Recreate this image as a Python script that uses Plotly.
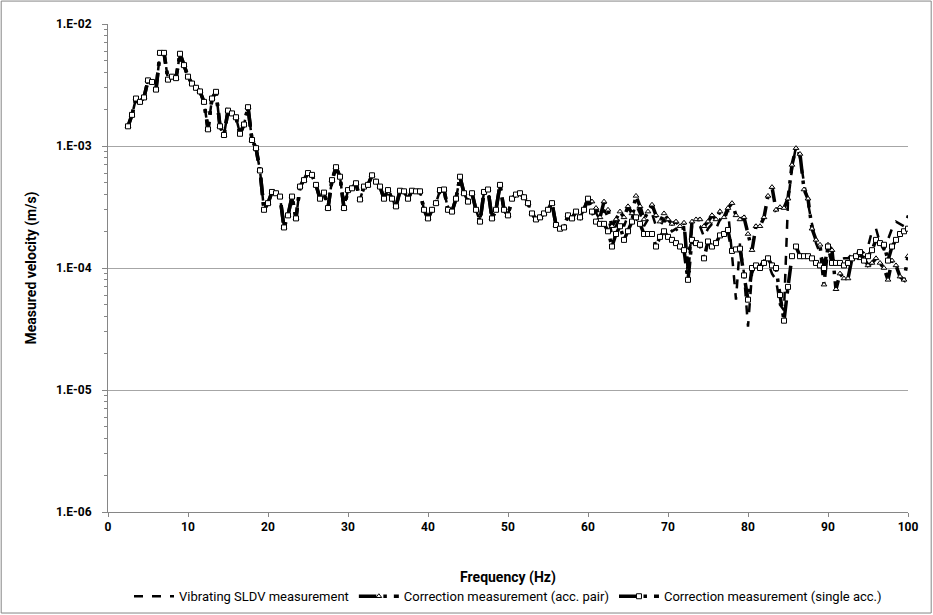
import numpy as np
import plotly.graph_objects as go

# Frequency grid (Hz)
freq = np.arange(2.5, 100.01, 0.5)

# Common part 2.5 - 60 Hz (all three measurements overlap)
common = [
    1.45e-3, 1.8e-3, 2.45e-3, 2.3e-3, 2.5e-3, 3.45e-3, 3.35e-3, 2.9e-3, 5.8e-3, 5.8e-3,
    3.5e-3, 3.7e-3, 3.6e-3, 5.7e-3, 4.6e-3, 3.7e-3, 3.25e-3, 3.0e-3, 2.8e-3, 2.3e-3,
    1.37e-3, 2.45e-3, 2.78e-3, 1.45e-3, 1.23e-3, 1.95e-3, 1.85e-3, 1.72e-3, 1.26e-3, 1.5e-3,
    2.08e-3, 1.12e-3, 9.6e-4, 6.3e-4, 3.0e-4, 3.4e-4, 4.2e-4, 4.1e-4, 3.85e-4, 2.15e-4,
    2.7e-4, 3.85e-4, 2.55e-4, 4.65e-4, 5.25e-4, 6.0e-4, 5.8e-4, 4.8e-4, 3.7e-4, 4.15e-4,
    3.1e-4, 5.25e-4, 6.7e-4, 5.6e-4, 3.1e-4, 4.35e-4, 4.5e-4, 4.95e-4, 3.65e-4, 4.65e-4,
    4.8e-4, 5.75e-4, 5.1e-4, 4.65e-4, 3.7e-4, 4.35e-4, 3.7e-4, 3.2e-4, 4.3e-4, 4.25e-4,
    3.7e-4, 4.3e-4, 4.25e-4, 4.25e-4, 3.0e-4, 2.55e-4, 3.0e-4, 3.4e-4, 4.35e-4, 4.4e-4,
    3.0e-4, 2.9e-4, 3.7e-4, 5.6e-4, 4.1e-4, 3.5e-4, 4.1e-4, 3.0e-4, 2.4e-4, 4.2e-4,
    4.4e-4, 2.55e-4, 3.0e-4, 4.8e-4, 3.0e-4, 2.7e-4, 3.7e-4, 4.0e-4, 4.1e-4, 3.8e-4,
    3.4e-4, 2.8e-4, 2.5e-4, 2.6e-4, 2.8e-4, 3.0e-4, 3.4e-4, 2.25e-4, 2.1e-4, 2.15e-4,
    2.7e-4, 2.55e-4, 2.9e-4, 2.6e-4, 3.0e-4, 3.7e-4,
]

# 60.5 - 100 Hz
sldv_tail = [
    3.2e-4, 2.8e-4, 2.5e-4, 3.0e-4, 2.6e-4, 1.9e-4, 2.2e-4, 2.6e-4, 2.2e-4, 2.7e-4,
    2.6e-4, 3.3e-4, 2.8e-4, 2.2e-4, 2.5e-4, 2.8e-4, 2.2e-4, 2.2e-4, 2.5e-4, 2.2e-4,
    2.0e-4, 2.1e-4, 1.9e-4, 2.2e-4, 9.0e-5, 2.2e-4, 2.3e-4, 2.2e-4, 1.8e-4, 2.1e-4,
    2.3e-4, 2.1e-4, 2.5e-4, 2.4e-4, 3.0e-4, 1.2e-4, 5.5e-5, 1.6e-4, 9.0e-5, 3.3e-5,
    9.0e-5, 1.1e-4, 1.05e-4, 1.15e-4, 1.1e-4, 9.0e-5, 8.0e-5, 5.0e-5, 4.5e-5, 3.5e-4,
    6.5e-4, 1.0e-3, 8.0e-4, 5.0e-4, 3.5e-4, 2.3e-4, 1.6e-4, 1.3e-4, 1.1e-4, 1.3e-4,
    1.2e-4, 1.1e-4, 1.15e-4, 1.2e-4, 1.2e-4, 1.3e-4, 1.4e-4, 1.3e-4, 1.35e-4, 1.5e-4,
    2.0e-4, 2.1e-4, 1.6e-4, 1.4e-4, 1.7e-4, 2.1e-4, 2.4e-4, 2.3e-4, 2.2e-4, 2.7e-4,
]
pair_tail = [
    3.5e-4, 3.1e-4, 2.6e-4, 3.5e-4, 3.0e-4, 2.2e-4, 2.5e-4, 2.9e-4, 2.6e-4, 3.2e-4,
    2.8e-4, 3.9e-4, 3.2e-4, 2.5e-4, 2.9e-4, 3.3e-4, 2.7e-4, 2.4e-4, 2.8e-4, 2.5e-4,
    2.3e-4, 2.4e-4, 2.2e-4, 2.35e-4, 9.5e-5, 2.4e-4, 2.5e-4, 2.5e-4, 2.2e-4, 2.4e-4,
    2.7e-4, 2.5e-4, 2.9e-4, 2.6e-4, 3.1e-4, 3.4e-4, 2.7e-4, 2.5e-4, 2.6e-4, 1.9e-4,
    1.4e-4, 2.2e-4, 2.2e-4, 2.6e-4, 3.9e-4, 4.6e-4, 3.0e-4, 3.15e-4, 3.1e-4, 3.7e-4,
    7.0e-4, 9.6e-4, 8.6e-4, 4.4e-4, 3.7e-4, 2.1e-4, 1.7e-4, 1.55e-4, 7.3e-5, 1.55e-4,
    1.4e-4, 6.7e-5, 9.0e-5, 8.2e-5, 8.2e-5, 1.2e-4, 1.25e-4, 1.2e-4, 1.2e-4, 1.05e-4,
    1.1e-4, 1.2e-4, 1.1e-4, 1.0e-4, 8.0e-5, 1.15e-4, 1.05e-4, 8.5e-5, 8.0e-5, 1.25e-4,
]
single_tail = [
    2.9e-4, 2.4e-4, 2.3e-4, 2.3e-4, 2.0e-4, 1.5e-4, 1.9e-4, 2.2e-4, 1.7e-4, 2.0e-4,
    2.4e-4, 2.6e-4, 2.3e-4, 1.9e-4, 1.9e-4, 1.9e-4, 1.5e-4, 1.8e-4, 2.0e-4, 1.8e-4,
    1.7e-4, 1.6e-4, 1.5e-4, 1.4e-4, 8.0e-5, 1.7e-4, 1.6e-4, 1.55e-4, 1.2e-4, 1.65e-4,
    1.5e-4, 1.6e-4, 1.85e-4, 1.9e-4, 2.05e-4, 1.38e-4, 1.42e-4, 1.44e-4, 8.7e-5, 5.5e-5,
    1.0e-4, 1.05e-4, 1.0e-4, 1.1e-4, 1.2e-4, 1.05e-4, 1.0e-4, 6.0e-5, 3.7e-5, 7.0e-5,
    1.25e-4, 1.5e-4, 1.25e-4, 1.25e-4, 1.25e-4, 1.2e-4, 1.1e-4, 1.05e-4, 1.0e-4, 1.5e-4,
    1.1e-4, 1.1e-4, 1.1e-4, 1.05e-4, 1.1e-4, 1.2e-4, 1.25e-4, 1.35e-4, 1.15e-4, 1.25e-4,
    1.4e-4, 1.7e-4, 1.6e-4, 1.55e-4, 1.15e-4, 1.5e-4, 1.7e-4, 1.9e-4, 2.0e-4, 2.1e-4,
]

sldv = common + sldv_tail
pair = common + pair_tail
single = common + single_tail

ytick_vals = [1e-6, 1e-5, 1e-4, 1e-3, 1e-2]
ytick_text = ["1.E-06", "1.E-05", "1.E-04", "1.E-03", "1.E-02"]
xtick_vals = [0, 10, 20, 30, 40, 50, 60, 70, 80, 90, 100]
minor_vals = [m * d for d in [1e-6, 1e-5, 1e-4, 1e-3] for m in range(2, 10)]

FONT = "Roboto, sans-serif"

fig = go.Figure()
fig.add_trace(go.Scatter(
    x=freq, y=sldv, mode="lines", name="Vibrating SLDV measurement",
    line=dict(color="black", width=2.5, dash="dash"),
))
fig.add_trace(go.Scatter(
    x=freq, y=pair, mode="lines+markers", name="Correction measurement (acc. pair)",
    line=dict(color="black", width=3.5, dash="longdashdot"),
    marker=dict(symbol="triangle-up", size=5, color="white", line=dict(color="black", width=1)),
))
fig.add_trace(go.Scatter(
    x=freq, y=single, mode="lines+markers", name="Correction measurement (single acc.)",
    line=dict(color="black", width=3.5, dash="longdashdot"),
    marker=dict(symbol="square", size=5, color="white", line=dict(color="black", width=1)),
))

fig.update_layout(
    width=933, height=615,
    margin=dict(l=108, r=25, t=24, b=103, autoexpand=False),
    paper_bgcolor="white", plot_bgcolor="white",
    font=dict(family=FONT, size=12, color="black"),
    showlegend=True,
    legend=dict(orientation="h", x=0.5, xanchor="center", y=-0.142, yanchor="top",
                bgcolor="rgba(0,0,0,0)",
                font=dict(family=FONT, size=13), itemwidth=40, tracegroupgap=0),
    xaxis=dict(
        range=[0, 100], tickvals=xtick_vals, showgrid=False, zeroline=False,
        showline=True, linecolor="#868686", linewidth=1,
        ticks="outside", tickcolor="#868686", ticklen=4,
        tickfont=dict(family=FONT, size=12, color="black", weight="bold"),
        title=dict(text="<b>Frequency (Hz)</b>", font=dict(family=FONT, size=14), standoff=38),
    ),
    yaxis=dict(
        type="log", range=[-6, -2], tickvals=ytick_vals, ticktext=ytick_text,
        showgrid=True, gridcolor="#a6a6a6", gridwidth=1, zeroline=False,
        showline=True, linecolor="#868686", linewidth=1,
        ticks="outside", tickcolor="#868686", ticklen=5,
        minor=dict(tickvals=minor_vals, ticks="outside", ticklen=3,
                   tickcolor="#868686", showgrid=False),
        tickfont=dict(family=FONT, size=12, color="black", weight="bold"),
        ticklabelstandoff=8,
        title=dict(text="<b>Measured velocity (m/s)</b>", font=dict(family=FONT, size=14), standoff=16),
    ),
    shapes=[dict(type="rect", xref="paper", yref="paper",
                 x0=-0.1335, x1=1.029, y0=-0.207, y1=1.047,
                 line=dict(color="#868686", width=1), fillcolor="rgba(0,0,0,0)")],
)

fig.write_html("out.html")
